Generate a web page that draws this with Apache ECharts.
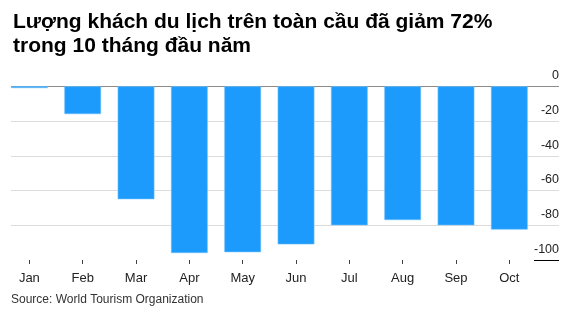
<!DOCTYPE html>
<html><head><meta charset="utf-8">
<script src="https://cdn.jsdelivr.net/npm/echarts@6/dist/echarts.min.js"></script>
<style>html,body{margin:0;padding:0;background:#fff}#c{width:575px;height:324px}</style>
</head><body><div id="c"></div>
<script>
const categories = ['Jan','Feb','Mar','Apr','May','Jun','Jul','Aug','Sep','Oct'];
const values = [-1, -16, -65, -96, -95.5, -91, -80, -77, -80, -82.5];
const yTicks = [0, -20, -40, -60, -80, -100];
const titleText = 'Lượng khách du lịch trên toàn cầu đã giảm 72%\ntrong 10 tháng đầu năm';
const sourceText = 'Source: World Tourism Organization';

const FONT = "'Liberation Sans', Arial, Helvetica, sans-serif";
const chart = echarts.init(document.getElementById('c'), null, {renderer:'canvas'});
const gTop = 86.3, gBottom = 324 - 260;
chart.setOption({
  animation: false,
  title: {
    text: titleText, left: 8, top: 5,
    textStyle: {fontFamily: FONT, fontSize: 21, fontWeight: 'bold', color: '#000', lineHeight: 24}
  },
  graphic: [{type:'text', left: 11, top: 294, style:{text: sourceText, font: '12px ' + FONT, fill: '#333'}}],
  grid: [
    {left: 11, right: 16, top: gTop, bottom: gBottom},
    {left: 2.7, right: 39, top: gTop, bottom: gBottom},
    {left: 534, right: 16, top: gTop, bottom: gBottom}
  ],
  xAxis: [
    {gridIndex: 0, type: 'value', show: false},
    {gridIndex: 1, type: 'category', data: categories, position: 'bottom',
     axisLine: {show: false, onZero: false},
     axisTick: {show: true, alignWithLabel: true, length: 4, lineStyle: {color: '#444', width: 1}},
     axisLabel: {fontFamily: FONT, fontSize: 13, color: '#222', margin: 12}},
    {gridIndex: 2, type: 'value', show: false}
  ],
  yAxis: [
    {gridIndex: 0, type: 'value', min: -100, max: 0, interval: 20, position: 'right',
     axisLine: {show: false}, axisTick: {show: false},
     axisLabel: {inside: true, margin: 0, verticalAlign: 'bottom', padding: [0,0,4,0],
       fontFamily: FONT, fontSize: 12.5, color: '#222',
       formatter: v => yTicks.includes(v) ? String(v) : ''},
     splitLine: {show: true, lineStyle: {color: ['rgba(0,0,0,0)', '#dcdcdc', '#dcdcdc', '#dcdcdc', '#dcdcdc', '#8c8c8c'], width: 1}}},
    {gridIndex: 1, type: 'value', min: -100, max: 0, interval: 20, show: false},
    {gridIndex: 2, type: 'value', min: -100, max: 0, interval: 100,
     axisLine: {show: false}, axisTick: {show: false}, axisLabel: {show: false},
     splitLine: {show: true, lineStyle: {color: ['#000', 'rgba(0,0,0,0)'], width: 1}}}
  ],
  series: [{
    type: 'bar', xAxisIndex: 1, yAxisIndex: 1, data: values, barWidth: 36.7,
    itemStyle: {color: '#1c9bfd', borderColor: '#6cbffd', borderWidth: 0.6}, z: 5
  }]
});
</script></body></html>
